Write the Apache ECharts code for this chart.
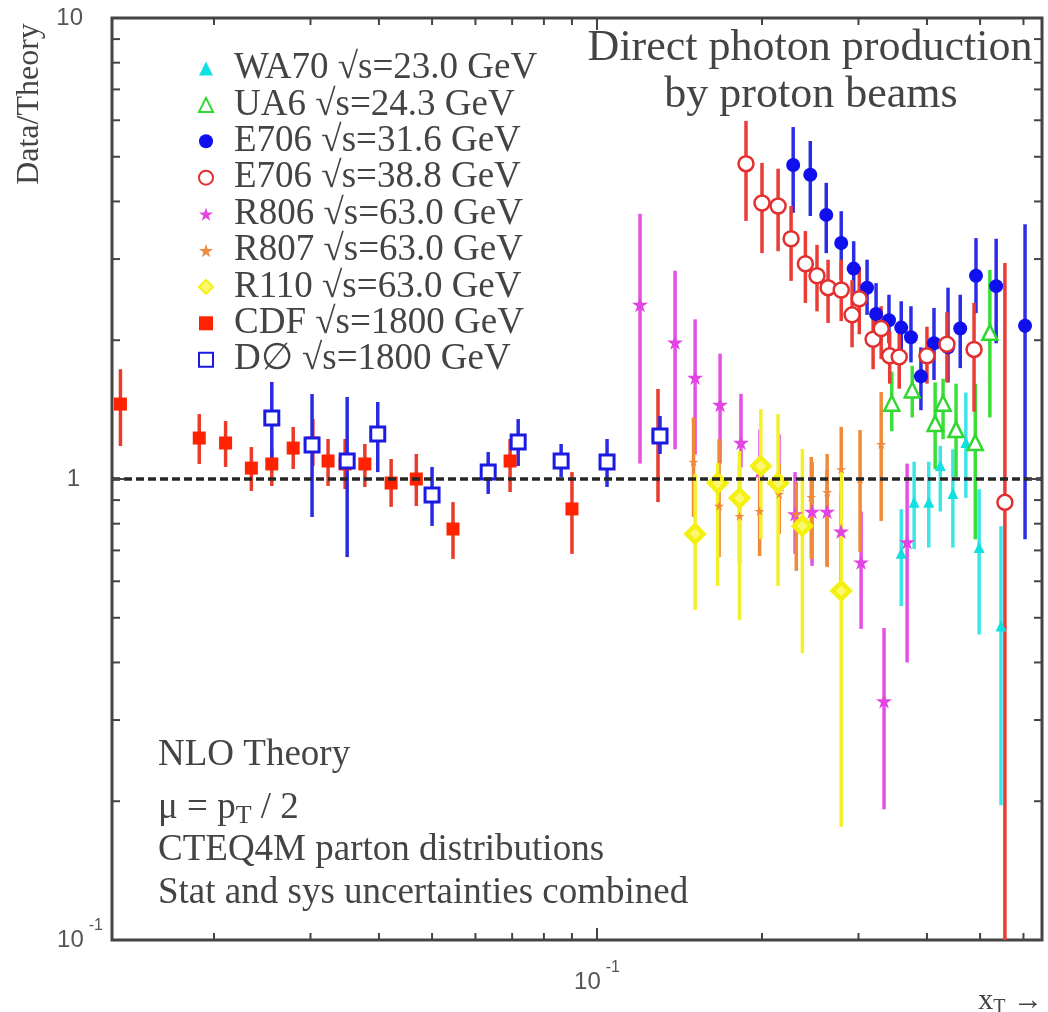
<!DOCTYPE html>
<html><head><meta charset="utf-8">
<script src="https://cdn.jsdelivr.net/npm/echarts@6/dist/echarts.min.js"></script>
<style>html,body{margin:0;padding:0;background:#fff}#c{width:1048px;height:1012px}</style>
</head><body><div id="c"></div>
<script>
// ---- data (x_T, Data/Theory, lower and upper error) ----
const wa70X  = [0.359, 0.379, 0.403, 0.423, 0.446, 0.471, 0.498, 0.546];
const wa70Y  = [0.69, 0.89, 0.89, 1.07, 0.93, 1.20, 0.71, 0.48];
const wa70Lo = [0.53, 0.705, 0.71, 0.85, 0.71, 0.91, 0.46, 0.196];
const wa70Hi = [0.86, 1.09, 1.09, 1.18, 1.16, 1.54, 0.95, 0.79];

const ua6X  = [0.345, 0.376, 0.414, 0.428, 0.452, 0.490, 0.521];
const ua6Y  = [1.46, 1.56, 1.32, 1.46, 1.28, 1.20, 2.08];
const ua6Lo = [1.27, 1.36, 1.05, 1.22, 1.01, 0.74, 1.36];
const ua6Hi = [1.71, 1.76, 1.62, 1.65, 1.61, 1.61, 2.84];

const e316X  = [0.228, 0.245, 0.262, 0.279, 0.294, 0.311, 0.323, 0.341, 0.359, 0.374, 0.390, 0.412, 0.437, 0.460, 0.4915, 0.535, 0.604];
const e316Y  = [4.80, 4.57, 3.74, 3.25, 2.86, 2.60, 2.28, 2.21, 2.13, 2.03, 1.67, 1.97, 1.93, 2.12, 2.76, 2.62, 2.15];
const e316Lo = [3.78, 3.72, 3.09, 2.70, 2.43, 2.27, 1.97, 1.97, 1.91, 1.79, 1.41, 1.64, 1.62, 1.74, 2.29, 1.97, 0.74];
const e316Hi = [5.80, 5.41, 4.39, 3.81, 3.28, 2.99, 2.66, 2.51, 2.43, 2.37, 1.93, 2.35, 2.60, 2.51, 3.33, 3.32, 3.57];

const e388X  = [0.187, 0.200, 0.214, 0.226, 0.240, 0.252, 0.264, 0.279, 0.292, 0.301, 0.319, 0.330, 0.342, 0.356, 0.400, 0.435, 0.4875, 0.555];
const e388Y  = [4.83, 3.97, 3.91, 3.32, 2.93, 2.76, 2.60, 2.57, 2.27, 2.46, 2.01, 2.12, 1.85, 1.84, 1.85, 1.96, 1.91, 0.89];
const e388Lo = [3.63, 3.09, 3.12, 2.69, 2.41, 2.31, 2.18, 2.20, 1.93, 2.06, 1.73, 1.82, 1.61, 1.57, 1.61, 1.62, 1.40, 0.09];
const e388Hi = [5.98, 4.85, 4.71, 3.91, 3.45, 3.22, 2.99, 2.99, 2.70, 2.88, 2.30, 2.37, 2.09, 2.08, 2.14, 2.30, 2.41, 2.94];

const r806X  = [0.1198, 0.1388, 0.151, 0.1677, 0.1831, 0.1983, 0.2148, 0.2298, 0.2468, 0.2629, 0.2788, 0.3033, 0.334, 0.368];
const r806Y  = [2.39, 1.98, 1.66, 1.45, 1.20, 1.04, 0.975, 0.84, 0.85, 0.85, 0.77, 0.66, 0.33, 0.73];
const r806Lo = [1.08, 1.16, 1.13, 1.08, 1.06, 0.84, 0.767, 0.688, 0.648, 0.648, 0.563, 0.473, 0.192, 0.40];
const r806Hi = [3.76, 2.83, 2.22, 1.87, 1.53, 1.28, 1.25, 1.035, 1.09, 1.05, 0.93, 0.85, 0.475, 1.08];

const r807X  = [0.150, 0.167, 0.182, 0.198, 0.215, 0.231, 0.246, 0.263, 0.279, 0.302, 0.330];
const r807Y  = [1.09, 0.874, 0.831, 0.852, 0.928, 0.84, 0.914, 0.937, 1.05, 1.0, 1.19];
const r807Lo = [0.827, 0.677, 0.657, 0.681, 0.76, 0.632, 0.671, 0.644, 0.771, 0.695, 0.811];
const r807Hi = [1.36, 1.22, 1.09, 1.01, 1.078, 0.985, 1.116, 1.133, 1.297, 1.277, 1.544];

const r110X  = [0.151, 0.166, 0.182, 0.199, 0.214, 0.237, 0.279];
const r110Y  = [0.76, 0.98, 0.909, 1.067, 0.98, 0.791, 0.572];
const r110Lo = [0.52, 0.586, 0.494, 0.741, 0.586, 0.419, 0.176];
const r110Hi = [1.025, 1.083, 1.15, 1.418, 1.383, 1.162, 1.051];

const cdfX  = [0.0135, 0.0188, 0.0210, 0.0234, 0.0255, 0.0279, 0.0303, 0.0323, 0.0347, 0.0377, 0.0421, 0.0468, 0.0546, 0.0694, 0.0900, 0.1292];
const cdfY  = [1.454, 1.227, 1.197, 1.056, 1.078, 1.167, 1.197, 1.094, 1.078, 1.078, 0.98, 1.0, 0.779, 1.094, 0.861, 1.24];
const cdfLo = [1.179, 1.078, 1.062, 0.942, 0.966, 1.051, 1.067, 0.966, 0.951, 0.961, 0.87, 0.874, 0.671, 0.937, 0.688, 0.891];
const cdfHi = [1.73, 1.383, 1.336, 1.173, 1.162, 1.297, 1.349, 1.221, 1.221, 1.191, 1.105, 1.133, 0.891, 1.221, 1.035, 1.568];

const d0X  = [0.0255, 0.0302, 0.0350, 0.0398, 0.0500, 0.0633, 0.0718, 0.0860, 0.1043, 0.1303];
const d0Y  = [1.356, 1.185, 1.094, 1.252, 0.923, 1.035, 1.203, 1.094, 1.089, 1.24];
const d0Lo = [1.05, 0.827, 0.677, 1.035, 0.791, 0.928, 1.067, 1.01, 0.961, 1.133];
const d0Hi = [1.624, 1.529, 1.506, 1.469, 1.062, 1.144, 1.349, 1.191, 1.221, 1.37];

const seriesNames = [
  'WA70 √s=23.0 GeV', 'UA6 √s=24.3 GeV', 'E706 √s=31.6 GeV', 'E706 √s=38.8 GeV',
  'R806 √s=63.0 GeV', 'R807 √s=63.0 GeV', 'R110 √s=63.0 GeV', 'CDF √s=1800 GeV', 'D∅ √s=1800 GeV'
];

// axis ranges and tick values
const xMin = 0.01303, xMax = 0.6486;
const yMin = 0.1, yMax = 10;
const xMinorTicks = [0.02, 0.03, 0.04, 0.05, 0.06, 0.07, 0.08, 0.09, 0.2, 0.3, 0.4, 0.5, 0.6];
const xMajorTicks = [0.1];
const yMinorTicks = [0.2, 0.3, 0.4, 0.5, 0.6, 0.7, 0.8, 0.9, 2, 3, 4, 5, 6, 7, 8, 9];
const yMajorTicks = [1];

const STAR = 'path://M50,0 L61,35 L98,35 L68,57 L79,91 L50,70 L21,91 L32,57 L2,35 L39,35 Z';
const SERIF = '"Liberation Serif", "DejaVu Serif", serif';
const SANS = '"Liberation Sans", "DejaVu Sans", sans-serif';
const TXT = '#444';

const specs = [
  {xs: wa70X, ys: wa70Y, lo: wa70Lo, hi: wa70Hi, symbol: 'triangle', size: 11, fill: '#10e0e0', border: '#10e0e0', bw: 0, bar: '#3ce6e6'},
  {xs: ua6X, ys: ua6Y, lo: ua6Lo, hi: ua6Hi, symbol: 'triangle', size: 15, fill: '#ffffff', border: '#2fd82f', bw: 2.5, bar: '#38e038'},
  {xs: e316X, ys: e316Y, lo: e316Lo, hi: e316Hi, symbol: 'circle', size: 14, fill: '#1010ee', border: '#1010ee', bw: 0, bar: '#2c2ce6'},
  {xs: e388X, ys: e388Y, lo: e388Lo, hi: e388Hi, symbol: 'circle', size: 15, fill: '#ffffff', border: '#e23030', bw: 2.5, bar: '#ea3b35'},
  {xs: r806X, ys: r806Y, lo: r806Lo, hi: r806Hi, symbol: STAR, size: 16, fill: '#e244e2', border: '#e244e2', bw: 0, bar: '#e650e6'},
  {xs: r807X, ys: r807Y, lo: r807Lo, hi: r807Hi, symbol: STAR, size: 10, fill: '#f08a3c', border: '#f08a3c', bw: 0, bar: '#f08a36'},
  {xs: r110X, ys: r110Y, lo: r110Lo, hi: r110Hi, symbol: 'diamond', size: 17, fill: '#fbf870', border: '#f4f010', bw: 4.5, bar: '#f4f028'},
  {xs: cdfX, ys: cdfY, lo: cdfLo, hi: cdfHi, symbol: 'rect', size: 13, fill: '#ff2200', border: '#ff2200', bw: 0, bar: '#ea3a2a'},
  {xs: d0X, ys: d0Y, lo: d0Lo, hi: d0Hi, symbol: 'rect', size: 14, fill: '#ffffff', border: '#1a1ae2', bw: 3, bar: '#2a2ae2'}
];

const series = [];
specs.forEach((s, k) => {
  series.push({
    type: 'custom', name: 'err' + k, silent: true, clip: true, z: 2,
    data: s.xs.map((x, i) => [x, s.lo[i], s.hi[i]]),
    encode: {x: 0, y: [1, 2]},
    renderItem: (params, api) => {
      const a = api.coord([api.value(0), api.value(1)]);
      const b = api.coord([api.value(0), api.value(2)]);
      return {type: 'line', shape: {x1: a[0], y1: a[1], x2: b[0], y2: b[1]},
        style: {stroke: s.bar, lineWidth: 3.5}};
    }
  });
});
specs.forEach((s, k) => {
  const ser = {
    type: 'scatter', name: seriesNames[k], z: 3, silent: true,
    symbol: s.symbol, symbolSize: s.size, symbolKeepAspect: true,
    data: s.xs.map((x, i) => [x, s.ys[i]]),
    itemStyle: {color: s.fill, borderColor: s.border, borderWidth: s.bw, opacity: 1}
  };
  if (k === specs.length - 1) {
    ser.markLine = {
      silent: true, symbol: ['none', 'none'], label: {show: false},
      lineStyle: {type: [8, 4], color: '#262626', width: 3.5},
      data: [{yAxis: 1}]
    };
  }
  series.push(ser);
});

function tickSeries(vals, axis, len) {
  return {
    type: 'custom', silent: true, z: 6, clip: false,
    data: vals.map(v => axis === 'x' ? [v, 1] : [0.1, v]),
    renderItem: (params, api) => {
      const cs = params.coordSys;
      const st = {stroke: '#444', lineWidth: 2};
      if (axis === 'x') {
        const px = api.coord([api.value(0), 1])[0];
        return {type: 'group', children: [
          {type: 'line', shape: {x1: px, y1: cs.y + cs.height, x2: px, y2: cs.y + cs.height - len}, style: st},
          {type: 'line', shape: {x1: px, y1: cs.y, x2: px, y2: cs.y + len}, style: st}
        ]};
      }
      const py = api.coord([0.1, api.value(1)])[1];
      return {type: 'group', children: [
        {type: 'line', shape: {x1: cs.x, y1: py, x2: cs.x + len, y2: py}, style: st},
        {type: 'line', shape: {x1: cs.x + cs.width, y1: py, x2: cs.x + cs.width - len, y2: py}, style: st}
      ]};
    }
  };
}
series.push(tickSeries(xMinorTicks, 'x', 7));
series.push(tickSeries(xMajorTicks, 'x', 12));
series.push(tickSeries(yMinorTicks, 'y', 8));
series.push(tickSeries(yMajorTicks, 'y', 13));

const near = (a, b) => Math.abs(a - b) < 1e-9 * Math.max(1, b);
const numRich = {
  a: {fontFamily: SANS, fontSize: 24, color: '#555', lineHeight: 24},
  a1: {fontFamily: SANS, fontSize: 24, color: '#555', lineHeight: 24, padding: [0, 23, 0, 0]},
  a10: {fontFamily: SANS, fontSize: 24, color: '#555', lineHeight: 24, padding: [0, 20, 0, 0]},
  s: {fontFamily: SANS, fontSize: 16, color: '#555', padding: [0, 0, 28, 5]}
};

const option = {
  animation: false,
  backgroundColor: '#fff',
  grid: {left: 112, right: 6, top: 18, bottom: 72, show: true, borderColor: '#444', borderWidth: 3, containLabel: false},
  xAxis: {
    type: 'log', logBase: 10, min: xMin, max: xMax,
    axisLine: {show: false}, axisTick: {show: false}, splitLine: {show: false}, minorTick: {show: false},
    axisLabel: {
      margin: 20, rich: numRich,
      formatter: v => near(v, 0.1) ? '{a|10}{s|-1}' : ''
    }
  },
  yAxis: {
    type: 'log', logBase: 10, min: yMin, max: yMax,
    axisLine: {show: false}, axisTick: {show: false}, splitLine: {show: false}, minorTick: {show: false},
    axisLabel: {
      margin: 9, rich: numRich,
      formatter: v => near(v, 0.1) ? '{a|10}{s|-1}' : (near(v, 1) ? '{a1|1}' : (near(v, 10) ? '{a10|10}' : ''))
    }
  },
  legend: {
    orient: 'vertical', left: 193, top: 45, itemWidth: 14, itemHeight: 14, itemGap: -0.6,
    symbolKeepAspect: true, selectedMode: false, data: seriesNames,
    textStyle: {fontFamily: SERIF, fontSize: 37, color: TXT, lineHeight: 36.5, padding: [0, 0, 0, 16]}
  },
  graphic: [
    {type: 'text', x: 30, y: 104, rotation: Math.PI / 2, silent: true,
      style: {text: 'Data/Theory', fontFamily: SERIF, fontSize: 32, fill: TXT, align: 'center', verticalAlign: 'middle'}},
    {type: 'text', x: 810, y: 48, silent: true,
      style: {text: 'Direct photon production', fontFamily: SERIF, fontSize: 44, fill: TXT, align: 'center', verticalAlign: 'middle'}},
    {type: 'text', x: 811, y: 95, silent: true,
      style: {text: 'by proton beams', fontFamily: SERIF, fontSize: 44, fill: TXT, align: 'center', verticalAlign: 'middle'}},
    {type: 'text', x: 158, y: 755, silent: true,
      style: {text: 'NLO Theory', fontFamily: SERIF, fontSize: 37, fill: TXT, align: 'left', verticalAlign: 'middle'}},
    {type: 'text', x: 158, y: 808, silent: true,
      style: {text: 'μ = p{sub|T} / 2', fontFamily: SERIF, fontSize: 37, fill: TXT, align: 'left', verticalAlign: 'middle',
        rich: {sub: {fontFamily: SERIF, fontSize: 26, fill: TXT, padding: [16, 0, 0, 0]}}}},
    {type: 'text', x: 158, y: 850, silent: true,
      style: {text: 'CTEQ4M parton distributions', fontFamily: SERIF, fontSize: 37, fill: TXT, align: 'left', verticalAlign: 'middle'}},
    {type: 'text', x: 158, y: 893, silent: true,
      style: {text: 'Stat and sys uncertainties combined', fontFamily: SERIF, fontSize: 37, fill: TXT, align: 'left', verticalAlign: 'middle'}},
    {type: 'text', x: 1043, y: 1001, silent: true,
      style: {text: 'x{sub|T} →', fontFamily: SERIF, fontSize: 30, fill: TXT, align: 'right', verticalAlign: 'middle',
        rich: {sub: {fontFamily: SERIF, fontSize: 20, fill: TXT, padding: [14, 0, 0, 0]}}}}
  ],
  series: series
};

const chart = echarts.init(document.getElementById('c'), null, {renderer: 'canvas'});
chart.setOption(option);
</script>
</body></html>
